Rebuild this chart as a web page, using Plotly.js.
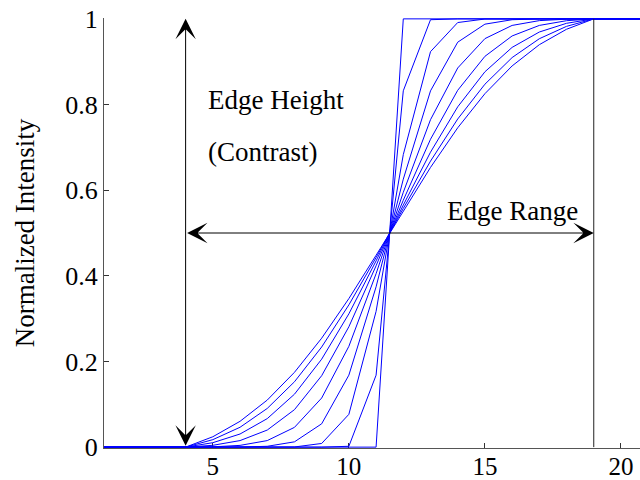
<!DOCTYPE html>
<html><head><meta charset="utf-8">
<script src="https://cdn.plot.ly/plotly-3.0.1.min.js"></script>
<style>html,body{margin:0;padding:0;background:#fff}</style>
</head><body><div id="chart" style="width:640px;height:480px"></div>
<script>
// sample positions
const xPos = [1,2,3,4,5,6,7,8,9,10,11,12,13,14,15,16,17,18,19,20,21];
// edge profiles, from sharpest to most blurred
const edge1 = [0,0,0,0,0,0,0,0,0,0,0,1,1,1,1,1,1,1,1,1,1];
const edge2 = [0,0,0,0,0,0,0,0,0,0.002,0.168,0.832,0.998,1,1,1,1,1,1,1,1];
const edge3 = [0,0,0,0,0,0,0,0.0004,0.0086,0.0766,0.317,0.683,0.9234,0.9914,0.9996,1,1,1,1,1,1];
const edge4 = [0,0,0,0,0,0.0002,0.002,0.0124,0.0545,0.1681,0.3743,0.6257,0.8319,0.9455,0.9876,0.998,0.9998,1,1,1,1];
const edge5 = [0,0,0,0,0.0007,0.0041,0.0153,0.0462,0.1147,0.2354,0.405,0.595,0.7646,0.8853,0.9538,0.9847,0.9959,0.9993,1,1,1];
const edge6 = [0,0,0,0,0.0043,0.0153,0.0399,0.0875,0.1668,0.2811,0.4235,0.5765,0.7189,0.8332,0.9125,0.9601,0.9847,0.9957,1,1,1];
const edge7 = [0,0,0,0,0.0104,0.0307,0.0666,0.1236,0.2054,0.3113,0.4349,0.5651,0.6887,0.7946,0.8764,0.9334,0.9693,0.9896,1,1,1];
const edge8 = [0,0,0,0,0.0175,0.0464,0.0904,0.1526,0.2338,0.3322,0.4427,0.5573,0.6678,0.7662,0.8474,0.9096,0.9536,0.9825,1,1,1];
const edge9 = [0,0,0,0,0.0243,0.0603,0.1099,0.1747,0.2544,0.3469,0.448,0.552,0.6531,0.7456,0.8253,0.8901,0.9397,0.9757,1,1,1];
const profiles = [edge1, edge2, edge3, edge4, edge5, edge6, edge7, edge8, edge9];
// annotation values
const rangeStart = 4, rangeEnd = 19, midLevel = 0.5;
const yTickVals = [0, 0.2, 0.4, 0.6, 0.8, 1];
const yTickText = ['0', '0.2', '0.4', '0.6', '0.8', '1'];
const xTickVals = [5, 10, 15, 20];
const xTickText = ['5', '10', '15', '20'];

const FONT = 'Liberation Serif, Times New Roman, serif';

const traces = profiles.map(p => ({
  x: xPos, y: p, type: 'scatter', mode: 'lines',
  line: {color: '#0000ff', width: 1}, hoverinfo: 'skip'
}));

const layout = {
  width: 640, height: 480,
  margin: {l: 104, r: 0, t: 18, b: 32, pad: 0},
  paper_bgcolor: '#fff', plot_bgcolor: '#fff',
  showlegend: false,
  font: {family: FONT, size: 26, color: '#000'},
  xaxis: {
    range: [1, 20.7], showgrid: false, zeroline: false,
    showline: true, linecolor: '#555', linewidth: 1,
    ticks: 'inside', ticklen: 5, tickwidth: 1, tickcolor: '#333',
    tickvals: xTickVals, ticktext: xTickText,
    tickfont: {family: FONT, size: 25, color: '#000'},
    ticklabelstandoff: -4,
    layer: 'below traces'
  },
  yaxis: {
    range: [-0.002, 1.002], showgrid: false, zeroline: false,
    showline: true, linecolor: '#555', linewidth: 1,
    ticks: 'inside', ticklen: 5, tickwidth: 1, tickcolor: '#333',
    tickvals: yTickVals, ticktext: yTickText,
    tickfont: {family: FONT, size: 26, color: '#000'},
    title: {text: 'Normalized Intensity', standoff: 22, font: {family: FONT, size: 27, color: '#000'}},
    layer: 'below traces'
  },
  shapes: [
    {type: 'line', xref: 'x', yref: 'y', x0: rangeEnd, x1: rangeEnd, y0: 0, y1: 1,
     line: {color: '#222', width: 1}}
  ],
  annotations: [
    {x: rangeStart, y: 1, ax: rangeStart, ay: 0, xref: 'x', yref: 'y', axref: 'x', ayref: 'y',
     text: '', showarrow: true, arrowside: 'end+start', arrowhead: 3, startarrowhead: 3,
     arrowsize: 3.4, startarrowsize: 3.4, arrowwidth: 1, arrowcolor: '#000', standoff: 0, startstandoff: 0},
    {x: rangeEnd, y: midLevel, ax: rangeStart, ay: midLevel, xref: 'x', yref: 'y', axref: 'x', ayref: 'y',
     text: '', showarrow: true, arrowside: 'end+start', arrowhead: 3, startarrowhead: 3,
     arrowsize: 3.4, startarrowsize: 3.4, arrowwidth: 1, arrowcolor: '#000', standoff: 0, startstandoff: 0},
    {x: 4.75, y: 0.811, xref: 'x', yref: 'y', xanchor: 'left', yanchor: 'middle',
     text: 'Edge Height', showarrow: false, font: {family: FONT, size: 27, color: '#000'}},
    {x: 4.75, y: 0.689, xref: 'x', yref: 'y', xanchor: 'left', yanchor: 'middle',
     text: '(Contrast)', showarrow: false, font: {family: FONT, size: 27, color: '#000'}},
    {x: 18.5, y: 0.551, xref: 'x', yref: 'y', xanchor: 'right', yanchor: 'middle',
     text: 'Edge Range', showarrow: false, font: {family: FONT, size: 27, color: '#000'}}
  ]
};

Plotly.newPlot('chart', traces, layout, {displayModeBar: false, staticPlot: true});
</script>
</body></html>
